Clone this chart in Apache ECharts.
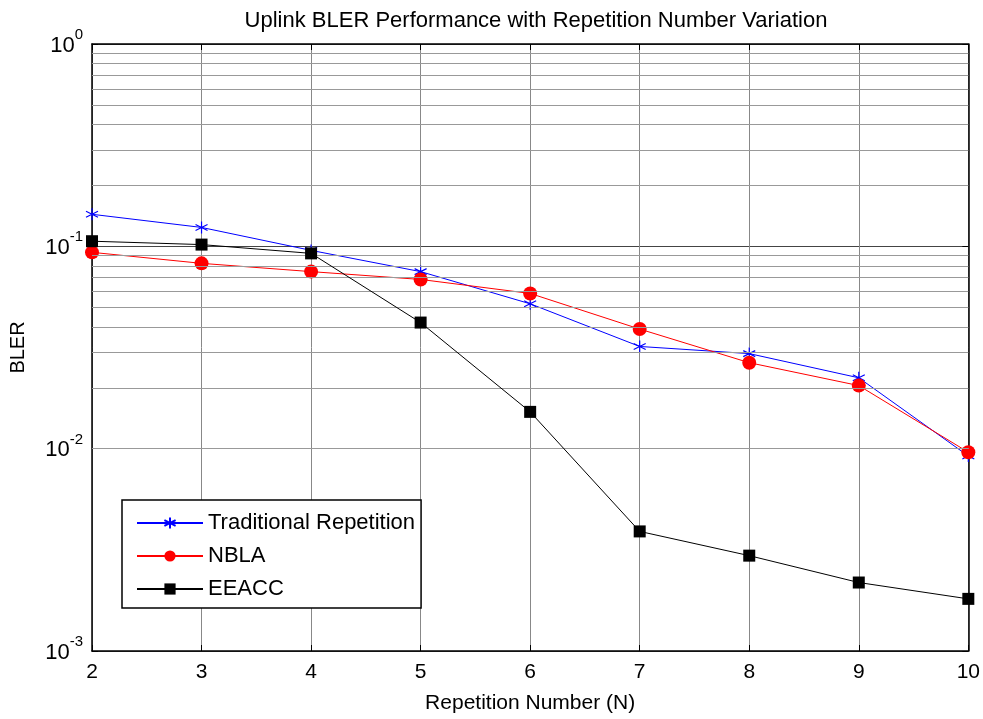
<!DOCTYPE html>
<html>
<head>
<meta charset="utf-8">
<script src="https://cdn.jsdelivr.net/npm/echarts@6/dist/echarts.min.js"></script>
<style>html,body{margin:0;padding:0;background:#fff;}#c{width:983px;height:719px;}</style>
</head>
<body>
<div id="c"></div>
<script>
var repetitions = [2, 3, 4, 5, 6, 7, 8, 9, 10];
var traditional = [0.144, 0.124, 0.0955, 0.075, 0.052, 0.032, 0.0295, 0.0224, 0.0092];
var nbla = [0.0934, 0.0824, 0.075, 0.0686, 0.0585, 0.039, 0.0266, 0.0205, 0.0096];
var eeacc = [0.106, 0.102, 0.0923, 0.042, 0.0152, 0.0039, 0.00296, 0.00218, 0.00181];
var yTicks = [0.001, 0.01, 0.1, 1];
var minorMultipliers = [2, 3, 4, 5, 6, 7, 8, 9];
var decades = [0.001, 0.01, 0.1];

function pairs(arr) { return repetitions.map(function (x, i) { return [x, arr[i]]; }); }
var minorLines = [];
decades.forEach(function (d) { minorMultipliers.forEach(function (m) { minorLines.push({ yAxis: m * d }); }); });

var chart = echarts.init(document.getElementById('c'));
var font = 'Liberation Sans, Arial, sans-serif';
var asterisk = 'path://M0,-5L0,5M-4.33,-2.5L4.33,2.5M-4.33,2.5L4.33,-2.5';
chart.setOption({
  animation: false,
  backgroundColor: '#fff',
  textStyle: { fontFamily: font },
  title: {
    text: 'Uplink BLER Performance with Repetition Number Variation',
    left: 531, top: 5, textAlign: 'center',
    textStyle: { fontFamily: font, fontSize: 22, fontWeight: 'normal', color: '#000' }
  },
  grid: { left: 92, right: 12, top: 44, bottom: 68 },
  legend: {
    orient: 'vertical', left: 122, top: 500,
    backgroundColor: '#fff',
    borderColor: '#000', borderWidth: 1.5, borderRadius: 0,
    padding: [12, 6, 8, 14],
    itemWidth: 66, itemHeight: 14, itemGap: 11,
    textStyle: { fontFamily: font, fontSize: 22, color: '#000' },
    data: ['Traditional Repetition', 'NBLA', 'EEACC']
  },
  xAxis: [{
    type: 'value', min: 2, max: 10, interval: 1,
    name: 'Repetition Number (N)', nameLocation: 'middle', nameGap: 42,
    nameTextStyle: { fontFamily: font, fontSize: 21, color: '#000' },
    axisLine: { lineStyle: { color: '#000', width: 1.5 } },
    axisTick: { inside: true, length: 6, lineStyle: { color: '#000' } },
    axisLabel: { fontFamily: font, fontSize: 21, color: '#000', margin: 11 },
    splitLine: { show: true, lineStyle: { color: '#888', width: 1 } }
  }, {
    type: 'value', min: 2, max: 10, interval: 1, position: 'top',
    axisLine: { show: true, lineStyle: { color: '#000', width: 1.5 } },
    axisTick: { inside: true, length: 6, lineStyle: { color: '#000' } },
    axisLabel: { show: false }, splitLine: { show: false }
  }],
  yAxis: [{
    type: 'log', logBase: 10, min: 0.001, max: 1,
    name: 'BLER', nameLocation: 'middle', nameGap: 64,
    nameTextStyle: { fontFamily: font, fontSize: 20, color: '#000' },
    axisLine: { show: true, lineStyle: { color: '#000', width: 1.5 } },
    axisTick: { inside: true, length: 6, lineStyle: { color: '#000' } },
    axisLabel: {
      margin: 9,
      formatter: function (v) {
        var e = Math.round(Math.log10(v));
        return '{b|10}{s|' + e + '}';
      },
      rich: {
        b: { fontFamily: font, fontSize: 22, color: '#000', verticalAlign: 'bottom', padding: [0, 0, 4, 0] },
        s: { fontFamily: font, fontSize: 15, color: '#000', padding: [0, 0, 18, 0], verticalAlign: 'bottom' }
      }
    },
    splitLine: { show: true, lineStyle: { color: '#444', width: 1 } }
  }, {
    type: 'log', logBase: 10, min: 0.001, max: 1, position: 'right',
    axisLine: { show: true, lineStyle: { color: '#000', width: 1.5 } },
    axisTick: { inside: true, length: 6, lineStyle: { color: '#000' } },
    axisLabel: { show: false }, splitLine: { show: false }
  }],
  series: [{
    name: 'gridMinor', type: 'line', data: [], silent: true, z: 1,
    markLine: {
      silent: true, symbol: ['none', 'none'], animation: false,
      label: { show: false },
      lineStyle: { color: '#999', width: 1, type: 'solid' },
      data: minorLines
    }
  }, {
    name: 'Traditional Repetition', type: 'line', data: pairs(traditional), z: 3,
    symbol: asterisk, symbolSize: 12,
    lineStyle: { color: '#0000ff', width: 1 },
    itemStyle: { color: '#0000ff', borderColor: '#0000ff', borderWidth: 1.2 }
  }, {
    name: 'NBLA', type: 'line', data: pairs(nbla), z: 4,
    symbol: 'circle', symbolSize: 14,
    lineStyle: { color: '#ff0000', width: 1 },
    itemStyle: { color: '#ff0000', borderColor: '#ff0000', borderWidth: 0 }
  }, {
    name: 'EEACC', type: 'line', data: pairs(eeacc), z: 5,
    symbol: 'rect', symbolSize: 12,
    lineStyle: { color: '#000', width: 1 },
    itemStyle: { color: '#000', borderColor: '#000', borderWidth: 0 }
  }]
});
</script>
</body>
</html>
